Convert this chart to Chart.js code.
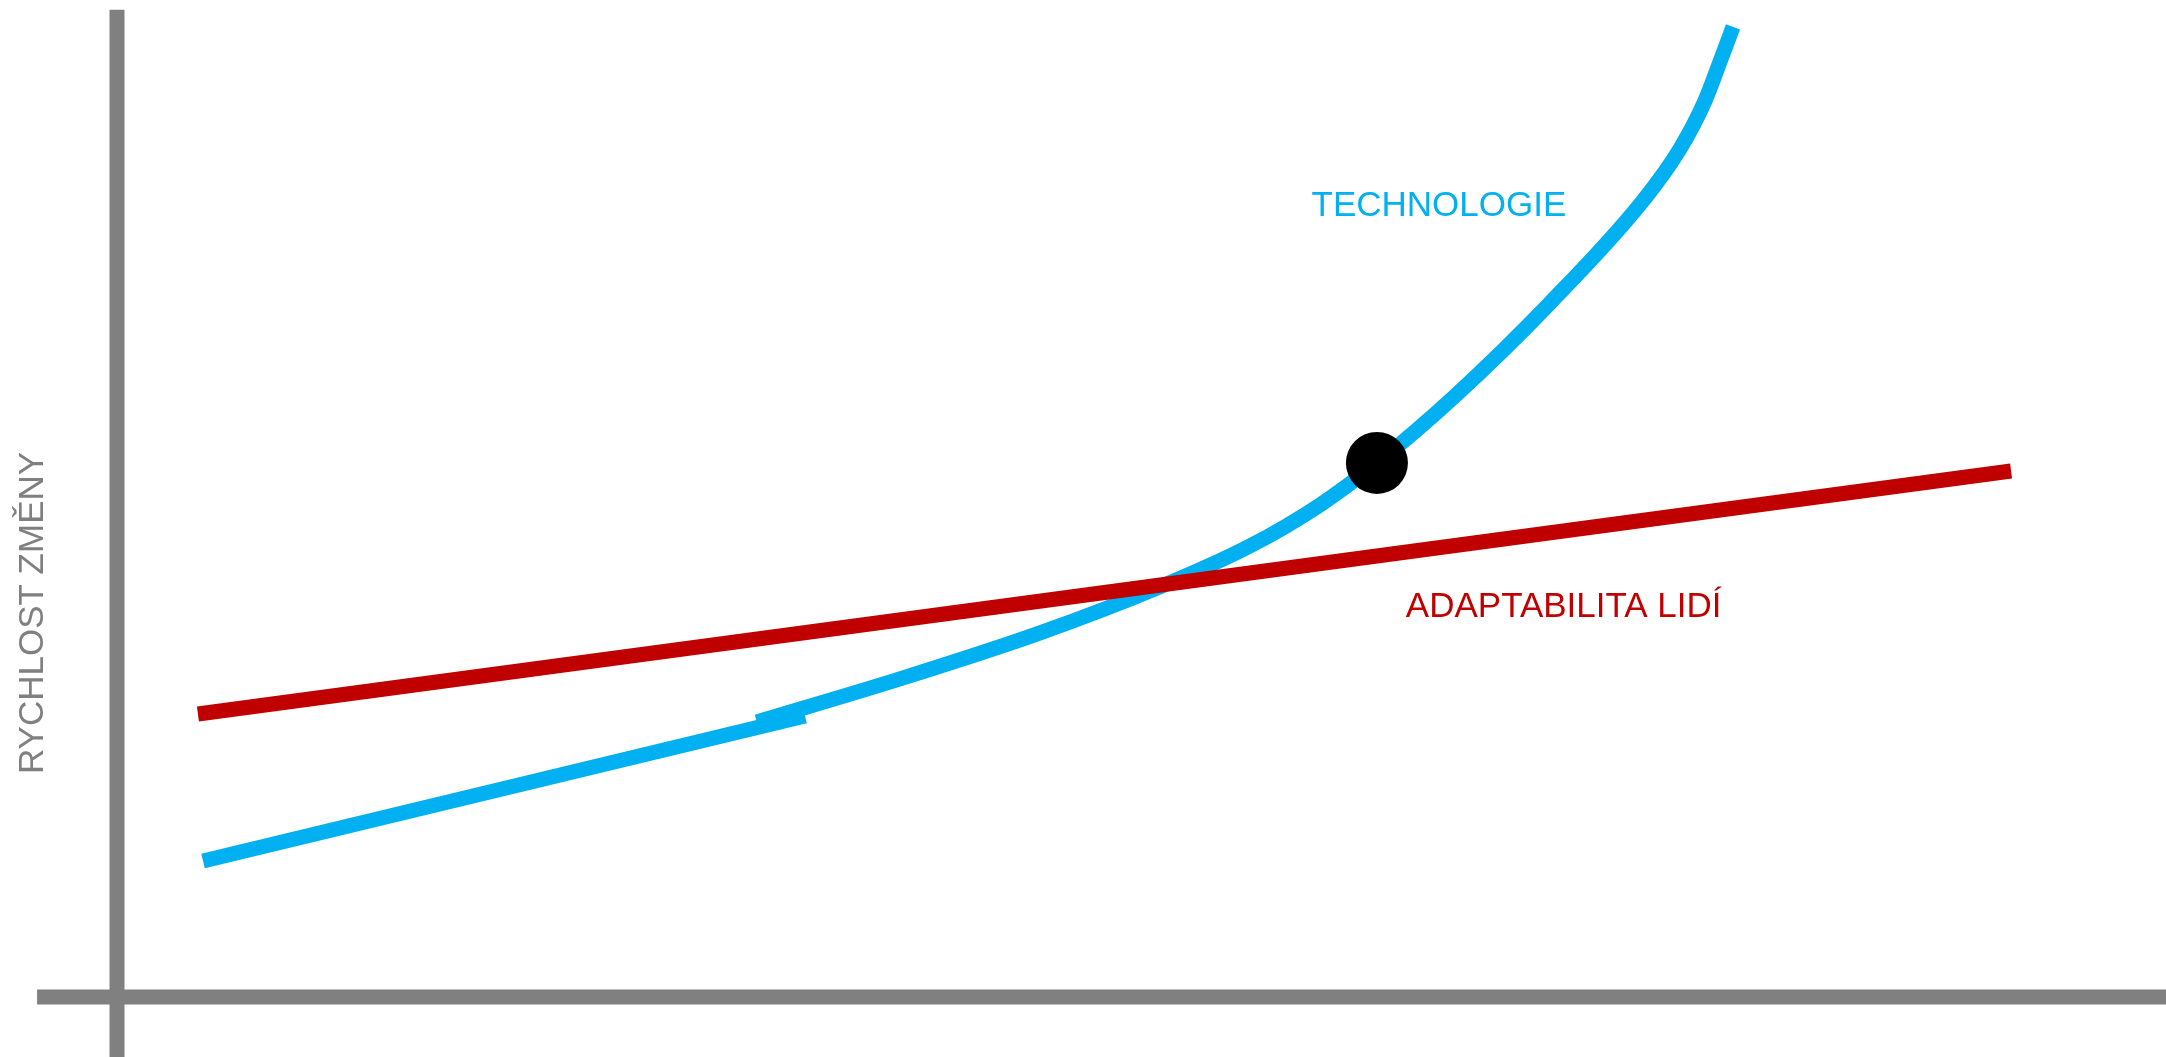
<!DOCTYPE html>
<html>
<head>
<meta charset="utf-8">
<script src="https://cdn.jsdelivr.net/npm/chart.js@4/dist/chart.umd.min.js"></script>
<style>
  html, body { margin: 0; padding: 0; background: #fff; }
  #wrap { width: 2166px; height: 1057px; }
</style>
</head>
<body>
<div id="wrap"><canvas id="changeChart"></canvas></div>
<script>
// concept chart: speed of change over time, values in arbitrary units (axes cross at 0,0)
var xRange = [-5.71, 100];
var yRange = [-6.08, 101.0];

// the two grey axes, drawn as lines through the origin
var axisX = [{x: -3.9, y: 0}, {x: 100, y: 0}];
var axisY = [{x: 0, y: -6.1}, {x: 0, y: 100.0}];

// people's adaptability - straight line
var adaptX = [3.95, 92.44];
var adaptY = [28.67, 53.29];

// technology - first straight stretch, then the accelerating curve
var techStartX = [4.2, 33.58];
var techStartY = [13.78, 28.47];
var techCurveX = [31.23, 38.21, 45.05, 50.9, 55.3, 58.71, 61.49, 65.3, 69.94, 74.43, 76.28, 77.5, 78.23, 78.87];
var techCurveY = [27.86, 32.22, 36.88, 41.54, 45.69, 49.85, 54.1, 60.89, 70.31, 80.55, 85.92, 90.78, 94.73, 98.28];

// the point where technology overtakes adaptability
var tippingPoint = {x: 61.49, y: 54.1};

var labels = [
  {text: 'TECHNOLOGIE', x: 58.3, y: 79.1, color: '#00B0F0'},
  {text: 'ADAPTABILITA LIDÍ', x: 62.9, y: 38.5, color: '#C00000'}
];
var yTitle = 'RYCHLOST ZMĚNY';

function pairs(xs, ys) {
  return xs.map(function (v, i) { return {x: v, y: ys[i]}; });
}

var textPlugin = {
  id: 'textLabels',
  afterDatasetsDraw: function (chart) {
    var ctx = chart.ctx;
    var sx = chart.scales.x, sy = chart.scales.y;
    ctx.save();
    ctx.font = '35px "Liberation Sans", Arial, sans-serif';
    ctx.textBaseline = 'alphabetic';
    ctx.textAlign = 'left';
    labels.forEach(function (l) {
      ctx.fillStyle = l.color;
      ctx.fillText(l.text, sx.getPixelForValue(l.x), sy.getPixelForValue(l.y));
    });
    // vertical axis title
    ctx.translate(sx.getPixelForValue(-4.1), sy.getPixelForValue(38.9));
    ctx.rotate(-Math.PI / 2);
    ctx.font = '35px "Liberation Sans", Arial, sans-serif';
    ctx.fillStyle = '#808080';
    ctx.textAlign = 'center';
    ctx.textBaseline = 'middle';
    ctx.fillText(yTitle, 0, 0);
    ctx.restore();
  }
};

var ctx = document.getElementById('changeChart').getContext('2d');
var chart = new Chart(ctx, {
  type: 'line',
  data: {
    datasets: [
      {data: [tippingPoint], showLine: false, pointRadius: 31, pointBackgroundColor: '#000', pointBorderWidth: 0, order: 0},
      {data: pairs(adaptX, adaptY), borderColor: '#C00000', borderWidth: 15, pointRadius: 0, tension: 0, order: 1},
      {data: pairs(techCurveX, techCurveY), borderColor: '#00B0F0', borderWidth: 15, pointRadius: 0, cubicInterpolationMode: 'monotone', order: 2},
      {data: pairs(techStartX, techStartY), borderColor: '#00B0F0', borderWidth: 15, pointRadius: 0, tension: 0, order: 3},
      {data: axisX, borderColor: '#808080', borderWidth: 15, pointRadius: 0, order: 4},
      {data: axisY, borderColor: '#808080', borderWidth: 15, pointRadius: 0, order: 4}
    ]
  },
  options: {
    responsive: true,
    maintainAspectRatio: false,
    animation: false,
    events: [],
    layout: {padding: 0, autoPadding: false},
    plugins: {legend: {display: false}, tooltip: {enabled: false}},
    scales: {
      x: {type: 'linear', min: xRange[0], max: xRange[1], display: false},
      y: {type: 'linear', min: yRange[0], max: yRange[1], display: false}
    }
  },
  plugins: [textPlugin]
});
</script>
</body>
</html>
